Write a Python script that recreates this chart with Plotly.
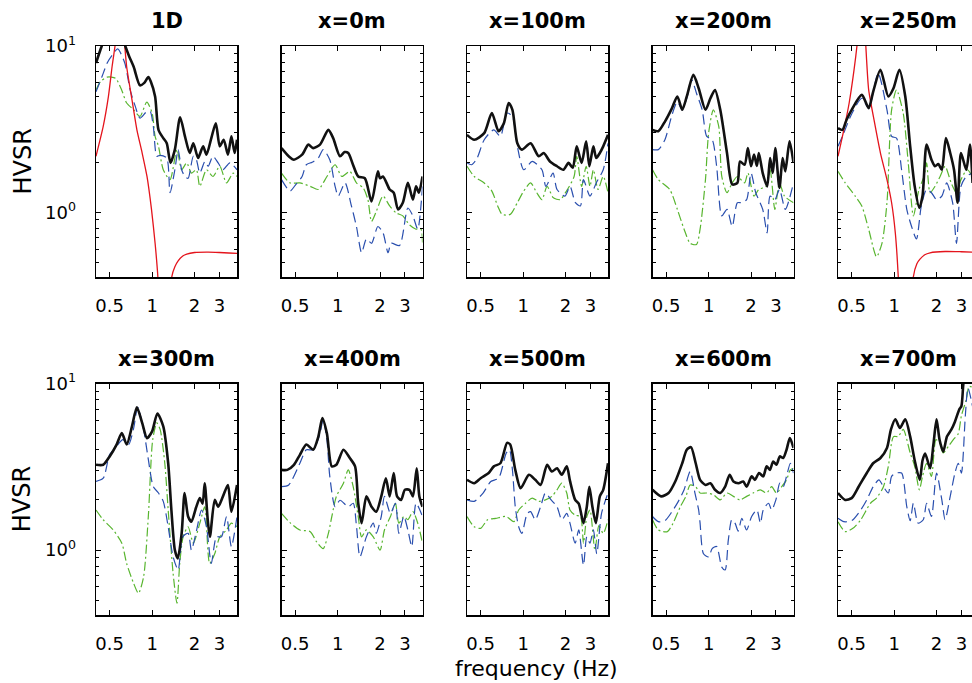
import math
import plotly.graph_objects as go

# ---------------- data (frequency Hz, HVSR) ----------------
TITLES = ["1D", "x=0m", "x=100m", "x=200m", "x=250m",
          "x=300m", "x=400m", "x=500m", "x=600m", "x=700m"]
X_TICKS = [0.5, 1, 2, 3]
X_TICK_TEXT = ["0.5", "1", "2", "3"]
Y_TICKS = [1, 10]
Y_TICK_TEXT = ["10<sup>0</sup>", "10<sup>1</sup>"]
Y_MINOR = [0.5, 0.6, 0.7, 0.8, 0.9, 2, 3, 4, 5, 6, 7, 8, 9]

# 1D
P1D_BLACK = [(0.40,7.9),(0.43,9.5),(0.46,11),(0.50,12),(0.55,12.5),(0.60,12),(0.645,10),(0.69,8.6),(0.74,7.5),(0.82,5.8),(0.88,6.0),(0.94,6.5),(0.98,6.1),(1.05,4.97),(1.11,3.13),(1.2,2.79),(1.27,2.6),(1.35,1.98),(1.45,2.38),(1.58,3.73),(1.71,2.86),(1.85,2.27),(1.96,2.6),(2.12,2.12),(2.3,2.49),(2.43,2.22),(2.63,2.79),(2.83,3.43),(3.02,2.49),(3.22,2.73),(3.45,2.22),(3.65,2.86),(3.85,2.27),(4.0,2.73)]
P1D_BLUE = [(0.40,5.3),(0.44,6.5),(0.48,7.9),(0.52,8.8),(0.57,9.6),(0.64,7.9),(0.70,5.4),(0.76,4.33),(0.82,3.68),(0.917,4.03),(0.97,4.03),(1.02,3.28),(1.08,2.17),(1.14,2.2),(1.27,2.12),(1.34,1.31),(1.45,1.8),(1.53,2.38),(1.62,1.8),(1.71,1.64),(1.8,1.6),(1.96,2.17),(2.06,2.07),(2.18,1.72),(2.37,2.02),(2.5,1.89),(2.7,2.17),(2.94,1.98),(3.18,1.8),(3.56,1.98),(4.0,1.8)]
P1D_GREEN = [(0.40,5.44),(0.43,6.1),(0.48,6.5),(0.55,6.4),(0.61,5.4),(0.66,4.54),(0.74,4.13),(0.82,3.77),(0.917,4.6),(1.0,3.95),(1.05,2.86),(1.11,2.49),(1.2,1.8),(1.34,1.57),(1.5,2.38),(1.62,1.8),(1.76,1.98),(1.9,1.72),(2.06,1.8),(2.18,1.43),(2.43,1.8),(2.7,1.64),(3.02,1.89),(3.37,1.5),(3.76,1.72),(4.0,1.64)]
P1D_RED = [(0.40,2.17),(0.45,3.28),(0.49,4.97),(0.52,7.5),(0.55,10.5),(0.58,16),(0.60,18),(0.62,14),(0.64,10),(0.66,7.5),(0.72,4.74),(0.78,3.13),(0.85,2.27),(0.92,1.64),(0.99,1.04),(1.05,0.65),(1.1,0.4),(1.15,0.15),(1.22,0.03),(1.3,0.15),(1.38,0.41),(1.45,0.47),(1.53,0.51),(1.65,0.545),(1.76,0.56),(2.0,0.572),(2.5,0.575),(3.0,0.572),(3.5,0.568),(4.0,0.565)]

# x=0m
P0_BLACK = [(0.40,2.43),(0.45,2.17),(0.49,2.07),(0.56,2.22),(0.62,2.55),(0.67,2.43),(0.75,2.55),(0.86,3.13),(0.93,2.79),(1.04,2.17),(1.12,2.3),(1.19,2.27),(1.28,1.95),(1.4,1.64),(1.56,1.6),(1.74,1.16),(1.93,1.76),(2.0,1.6),(2.1,1.64),(2.34,1.37),(2.5,1.31),(2.68,1.04),(2.9,1.14),(3.15,1.5),(3.42,1.19),(3.6,1.43),(3.77,1.31),(4.0,1.64)]
P0_BLUE = [(0.40,1.57),(0.46,1.34),(0.5,1.45),(0.56,1.64),(0.6,1.93),(0.66,2.0),(0.73,2.12),(0.79,2.38),(0.88,2.07),(0.96,1.43),(1.01,1.25),(1.13,1.5),(1.25,1.1),(1.36,0.82),(1.48,0.57),(1.6,0.69),(1.74,0.65),(1.93,0.82),(2.1,0.75),(2.28,0.57),(2.4,0.65),(2.75,0.63),(3.15,1.06),(3.42,0.95),(3.7,0.79),(4.0,1.43)]
P0_GREEN = [(0.40,1.72),(0.46,1.5),(0.54,1.5),(0.64,1.43),(0.73,1.37),(0.84,1.64),(0.96,1.93),(1.07,1.64),(1.22,1.76),(1.36,1.5),(1.52,1.4),(1.64,1.19),(1.74,0.88),(1.88,1.01),(2.1,1.25),(2.34,1.09),(2.6,0.99),(2.9,0.95),(3.23,0.84),(3.6,0.79),(3.9,0.79),(4.0,0.65)]

# x=100m
P100_BLACK = [(0.40,2.92),(0.45,2.73),(0.53,2.99),(0.60,3.95),(0.67,3.07),(0.73,3.43),(0.79,4.54),(0.84,4.13),(0.91,2.6),(0.98,2.38),(1.13,2.6),(1.29,2.17),(1.4,2.27),(1.55,2.02),(1.74,1.89),(1.93,1.8),(2.1,1.98),(2.25,1.85),(2.4,2.49),(2.6,1.98),(2.8,2.67),(2.95,1.89),(3.15,2.49),(3.3,2.12),(3.5,2.27),(3.7,2.49),(4.0,2.92)]
P100_BLUE = [(0.40,1.98),(0.43,1.93),(0.47,2.1),(0.53,2.73),(0.62,3.13),(0.69,2.86),(0.77,3.95),(0.84,3.77),(0.91,2.49),(1.01,1.8),(1.16,2.02),(1.36,1.8),(1.45,1.43),(1.63,1.72),(1.74,1.37),(1.98,1.25),(2.15,1.43),(2.35,1.14),(2.55,1.09),(2.68,1.57),(2.98,1.25),(3.3,1.5),(3.7,1.8),(4.0,2.6)]
P100_GREEN = [(0.40,1.89),(0.45,1.64),(0.53,1.5),(0.60,1.34),(0.66,1.09),(0.71,0.97),(0.81,0.97),(0.91,1.14),(1.01,1.34),(1.13,1.5),(1.25,1.31),(1.36,1.19),(1.48,1.43),(1.64,1.22),(1.83,1.19),(2.03,1.34),(2.3,1.64),(2.4,2.17),(2.6,1.43),(2.8,1.89),(2.98,1.43),(3.15,1.8),(3.4,1.37),(3.7,1.64),(4.0,1.31)]

# x=200m
P200_BLACK = [(0.40,3.13),(0.44,3.07),(0.49,3.51),(0.55,4.23),(0.60,4.97),(0.65,4.13),(0.70,4.97),(0.78,6.7),(0.85,5.57),(0.95,4.13),(1.03,4.85),(1.11,5.44),(1.21,4.13),(1.35,2.27),(1.47,1.47),(1.6,1.5),(1.67,2.02),(1.8,1.93),(1.9,2.43),(2.0,1.89),(2.1,2.22),(2.2,1.9),(2.27,2.27),(2.42,1.72),(2.6,1.43),(2.73,2.12),(2.85,1.72),(2.97,2.43),(3.18,1.4),(3.35,2.12),(3.5,1.76),(3.75,2.67),(4.0,1.98)]
P200_BLUE = [(0.40,2.38),(0.44,2.38),(0.49,2.73),(0.55,3.85),(0.60,4.6),(0.65,4.13),(0.70,4.85),(0.76,6.25),(0.82,5.2),(0.9,4.13),(0.97,2.86),(1.06,2.73),(1.14,1.89),(1.24,0.95),(1.35,1.04),(1.47,0.82),(1.6,1.14),(1.72,1.14),(1.86,1.19),(2.0,1.72),(2.16,1.31),(2.42,1.04),(2.6,0.75),(2.73,1.25),(2.95,1.19),(3.18,1.37),(3.5,1.04),(4.0,1.5)]
P200_GREEN = [(0.40,1.8),(0.44,1.57),(0.53,1.37),(0.60,1.04),(0.67,0.79),(0.74,0.65),(0.82,0.64),(0.87,0.79),(0.95,1.57),(1.0,2.99),(1.08,4.13),(1.18,3.28),(1.24,1.64),(1.35,1.31),(1.47,1.5),(1.6,1.64),(1.8,1.5),(1.9,1.72),(2.1,1.25),(2.27,1.37),(2.55,1.43),(2.73,1.8),(2.95,1.04),(3.18,1.5),(3.45,1.25),(4.0,1.14)]

# x=250m
P250_BLACK = [(0.40,3.2),(0.43,3.13),(0.46,3.6),(0.50,4.13),(0.59,5.08),(0.66,4.23),(0.71,5.3),(0.80,7.2),(0.91,4.97),(0.99,5.57),(1.09,7.2),(1.2,4.97),(1.3,2.49),(1.4,1.43),(1.51,1.06),(1.59,1.25),(1.7,2.55),(1.84,2.07),(1.95,1.89),(2.06,1.95),(2.18,1.8),(2.33,2.79),(2.5,2.27),(2.66,1.8),(2.82,1.14),(2.98,2.27),(3.25,1.8),(3.45,2.55),(3.6,1.5)]
P250_BLUE = [(0.40,2.49),(0.43,2.86),(0.50,3.9),(0.59,4.85),(0.66,4.23),(0.77,6.85),(0.89,4.13),(0.96,2.86),(1.04,2.79),(1.13,1.8),(1.23,1.04),(1.33,0.82),(1.44,0.69),(1.56,1.09),(1.7,1.37),(1.84,1.31),(2.0,1.19),(2.18,1.25),(2.36,1.5),(2.6,1.14),(2.77,0.65),(2.98,1.43),(3.25,1.64),(3.6,1.72)]
P250_GREEN = [(0.40,1.76),(0.45,1.5),(0.53,1.25),(0.59,1.09),(0.66,0.79),(0.75,0.54),(0.82,0.65),(0.89,1.14),(0.96,4.13),(1.04,5.44),(1.16,3.95),(1.26,1.98),(1.37,0.95),(1.5,1.37),(1.63,1.64),(1.7,1.98),(1.8,1.31),(1.95,1.43),(2.12,1.64),(2.3,1.89),(2.54,1.5),(2.77,1.31),(2.98,1.57),(3.3,1.8),(3.6,1.64)]
P250_RED = [(0.40,2.17),(0.44,3.13),(0.48,4.54),(0.52,7.2),(0.545,10),(0.58,18),(0.60,20),(0.615,15),(0.63,10),(0.66,5.44),(0.72,3.6),(0.80,2.27),(0.89,1.57),(0.96,1.14),(1.02,0.75),(1.07,0.41),(1.12,0.15),(1.22,0.03),(1.3,0.15),(1.37,0.41),(1.45,0.49),(1.52,0.52),(1.65,0.555),(1.8,0.57),(2.3,0.58),(3.0,0.578),(3.6,0.575)]

# x=300m
P300_BLACK = [(0.40,3.25),(0.45,3.25),(0.50,3.65),(0.56,4.3),(0.61,5.04),(0.66,4.3),(0.72,5.53),(0.78,7.2),(0.85,5.8),(0.92,4.7),(1.0,5.16),(1.09,6.6),(1.2,5.53),(1.3,3.32),(1.37,1.74),(1.45,1.0),(1.52,0.89),(1.62,1.26),(1.7,2.2),(1.8,1.59),(1.9,1.48),(2.05,1.8),(2.18,2.05),(2.28,1.9),(2.36,2.52),(2.48,1.52),(2.57,1.2),(2.78,2.0),(2.94,1.82),(3.18,2.1),(3.45,2.46),(3.65,1.7),(4.0,2.46)]
P300_BLUE = [(0.40,2.58),(0.45,2.7),(0.50,3.74),(0.56,4.2),(0.62,4.6),(0.68,4.3),(0.74,5.4),(0.79,7.2),(0.87,5.3),(0.94,3.5),(1.02,2.4),(1.11,2.2),(1.2,1.96),(1.3,1.38),(1.41,0.91),(1.53,0.76),(1.65,1.2),(1.8,1.26),(1.9,1.0),(2.07,1.32),(2.24,1.74),(2.43,1.38),(2.63,0.83),(2.86,1.2),(3.1,1.2),(3.37,1.59),(3.65,1.05),(4.0,1.59)]
P300_GREEN = [(0.40,1.74),(0.45,1.52),(0.53,1.32),(0.61,1.1),(0.66,0.83),(0.74,0.63),(0.80,0.55),(0.87,0.69),(0.94,1.59),(1.01,4.6),(1.08,5.8),(1.14,5.3),(1.23,3.32),(1.3,1.74),(1.41,0.72),(1.5,0.48),(1.57,0.83),(1.66,1.2),(1.8,1.38),(1.96,1.1),(2.18,1.45),(2.36,1.82),(2.56,0.83),(2.78,0.95),(3.02,1.2),(3.37,1.32),(3.65,1.45),(4.0,1.38)]

# x=400m
P400_BLACK = [(0.40,3.03),(0.44,3.03),(0.49,3.25),(0.54,3.73),(0.60,4.3),(0.67,4.0),(0.73,4.8),(0.78,6.2),(0.84,5.0),(0.91,3.18),(0.98,3.25),(1.1,4.0),(1.22,3.57),(1.33,3.18),(1.4,1.91),(1.48,1.45),(1.6,2.1),(1.74,1.82),(1.88,1.7),(2.04,2.1),(2.2,2.7),(2.34,2.1),(2.5,2.9),(2.64,2.1),(2.82,2.0),(3.0,2.3),(3.23,2.3),(3.42,2.1),(3.64,3.1),(3.8,2.1),(4.0,1.82)]
P400_BLUE = [(0.40,2.4),(0.45,2.46),(0.54,3.32),(0.60,4.0),(0.67,4.0),(0.75,5.0),(0.79,6.1),(0.84,4.6),(0.88,2.77),(0.96,1.82),(1.04,1.99),(1.19,1.82),(1.29,1.91),(1.36,1.4),(1.44,0.91),(1.6,1.2),(1.79,1.45),(1.88,1.26),(2.04,1.59),(2.15,2.1),(2.37,1.66),(2.57,1.91),(2.72,1.26),(2.95,1.59),(3.15,1.32),(3.36,1.05),(3.6,1.91),(4.0,1.59)]
P400_GREEN = [(0.40,1.66),(0.46,1.46),(0.54,1.32),(0.64,1.29),(0.71,1.12),(0.79,1.02),(0.86,1.26),(0.91,1.59),(0.98,2.1),(1.1,2.52),(1.19,3.03),(1.29,2.4),(1.4,1.59),(1.48,1.2),(1.6,1.32),(1.79,1.2),(2.0,1.0),(2.15,1.32),(2.37,1.59),(2.57,1.91),(2.72,1.45),(2.95,1.59),(3.15,1.52),(3.42,1.7),(3.7,1.45),(4.0,1.1)]

# x=500m
P500_BLACK = [(0.40,2.64),(0.45,2.52),(0.50,2.7),(0.57,2.9),(0.62,3.18),(0.69,3.32),(0.77,4.4),(0.81,4.3),(0.88,3.03),(0.96,2.35),(1.1,2.83),(1.22,2.64),(1.33,2.46),(1.48,3.25),(1.6,2.96),(1.74,3.1),(1.88,2.83),(2.04,3.18),(2.15,2.6),(2.34,2.0),(2.48,1.9),(2.68,1.45),(2.83,1.82),(2.95,2.4),(3.1,1.82),(3.28,1.45),(3.5,2.1),(3.7,2.3),(4.0,3.32)]
P500_BLUE = [(0.40,2.0),(0.45,1.96),(0.52,2.2),(0.59,2.58),(0.67,2.7),(0.76,3.83),(0.80,4.0),(0.84,3.03),(0.88,1.82),(0.93,1.38),(0.98,1.26),(1.07,1.66),(1.13,1.7),(1.22,1.52),(1.33,1.82),(1.44,2.2),(1.58,2.0),(1.74,1.82),(1.88,1.52),(2.04,1.66),(2.15,1.45),(2.34,1.1),(2.48,1.32),(2.68,0.81),(2.83,1.2),(2.98,1.1),(3.15,1.32),(3.33,0.95),(3.6,1.66),(4.0,2.2)]
P500_GREEN = [(0.40,1.59),(0.45,1.38),(0.50,1.35),(0.56,1.52),(0.64,1.55),(0.76,1.59),(0.86,1.48),(0.93,1.74),(1.04,1.91),(1.16,2.05),(1.29,1.96),(1.44,2.0),(1.6,2.1),(1.74,2.3),(1.88,2.52),(2.04,2.2),(2.15,1.74),(2.34,1.62),(2.55,1.59),(2.68,1.1),(2.83,1.59),(2.98,1.74),(3.23,1.0),(3.45,1.4),(3.7,1.26),(4.0,1.52)]

# x=600m
P600_BLACK = [(0.40,2.3),(0.46,2.1),(0.52,2.2),(0.58,2.58),(0.65,3.32),(0.70,4.0),(0.75,4.15),(0.81,3.32),(0.87,2.64),(0.95,2.46),(1.03,2.52),(1.11,2.3),(1.21,2.2),(1.31,2.4),(1.41,2.83),(1.5,2.58),(1.63,2.52),(1.76,2.58),(1.86,2.4),(2.02,2.77),(2.13,2.64),(2.28,2.9),(2.44,2.77),(2.58,3.18),(2.72,3.03),(2.87,3.4),(3.03,3.25),(3.2,3.65),(3.38,3.57),(3.57,4.0),(3.77,4.7),(4.0,4.1)]
P600_BLUE = [(0.40,1.59),(0.44,1.48),(0.49,1.5),(0.55,1.7),(0.61,1.96),(0.67,2.3),(0.74,2.96),(0.80,2.2),(0.85,1.74),(0.87,1.45),(0.92,0.95),(1.0,0.91),(1.06,1.02),(1.14,1.05),(1.24,0.79),(1.31,0.76),(1.38,1.15),(1.46,1.52),(1.54,1.45),(1.62,1.3),(1.72,1.55),(1.86,1.32),(2.02,1.59),(2.2,1.74),(2.33,1.45),(2.44,1.74),(2.66,1.91),(2.8,1.74),(3.0,2.0),(3.2,2.52),(3.38,2.4),(3.57,2.77),(3.8,3.32),(4.0,2.9)]
P600_GREEN = [(0.40,1.52),(0.44,1.32),(0.51,1.29),(0.56,1.45),(0.63,1.82),(0.69,2.1),(0.74,2.46),(0.81,2.4),(0.87,2.2),(0.97,2.2),(1.08,2.15),(1.21,2.0),(1.35,2.2),(1.5,2.1),(1.67,2.0),(1.86,2.1),(2.07,2.2),(2.33,2.3),(2.58,2.2),(2.8,2.4),(3.03,2.2),(3.3,2.4),(3.57,2.64),(3.8,3.03),(4.0,3.1)]

# x=700m
P700_BLACK = [(0.40,2.2),(0.45,2.0),(0.50,2.05),(0.56,2.4),(0.64,2.9),(0.71,3.32),(0.80,3.57),(0.89,4.1),(0.95,5.3),(1.02,6.1),(1.1,5.4),(1.2,6.1),(1.3,4.8),(1.4,3.45),(1.52,2.64),(1.59,3.45),(1.66,3.8),(1.8,3.1),(1.9,4.3),(2.0,6.1),(2.1,4.6),(2.23,3.9),(2.37,4.8),(2.55,5.3),(2.7,5.9),(2.9,7.0),(3.0,7.3),(3.1,10),(3.2,11.5),(3.4,13),(3.6,14)]
P700_BLUE = [(0.40,1.55),(0.44,1.48),(0.50,1.5),(0.58,1.74),(0.64,2.0),(0.71,2.4),(0.78,2.64),(0.84,2.4),(0.91,2.2),(0.96,2.77),(1.04,2.9),(1.13,2.9),(1.23,1.82),(1.3,1.5),(1.37,1.91),(1.48,1.45),(1.61,1.52),(1.7,1.91),(1.84,1.59),(2.0,2.9),(2.18,2.0),(2.3,1.52),(2.5,2.1),(2.7,2.9),(2.85,3.32),(3.0,2.9),(3.2,6.4),(3.34,9.4),(3.6,7.3)]
P700_GREEN = [(0.40,1.48),(0.45,1.29),(0.51,1.35),(0.58,1.52),(0.68,1.91),(0.75,2.05),(0.84,2.4),(0.91,3.18),(0.99,4.8),(1.07,4.8),(1.16,5.3),(1.3,3.83),(1.4,3.18),(1.51,2.3),(1.59,2.77),(1.7,3.32),(1.84,2.77),(1.98,4.6),(2.1,4.4),(2.23,3.83),(2.43,4.2),(2.63,4.6),(2.85,5.0),(3.0,6.4),(3.25,8.0),(3.4,9.6),(3.6,9.5)]

PANELS = [
    (P1D_BLACK, P1D_BLUE, P1D_GREEN, P1D_RED),
    (P0_BLACK, P0_BLUE, P0_GREEN, None),
    (P100_BLACK, P100_BLUE, P100_GREEN, None),
    (P200_BLACK, P200_BLUE, P200_GREEN, None),
    (P250_BLACK, P250_BLUE, P250_GREEN, P250_RED),
    (P300_BLACK, P300_BLUE, P300_GREEN, None),
    (P400_BLACK, P400_BLUE, P400_GREEN, None),
    (P500_BLACK, P500_BLUE, P500_GREEN, None),
    (P600_BLACK, P600_BLUE, P600_GREEN, None),
    (P700_BLACK, P700_BLUE, P700_GREEN, None),
]

# ---------------- layout geometry ----------------
W, H = 972, 683
ML = 96
PW = W - ML
PANEL_W = 141.0
STEP = 185.5
ROW_TOP = [46.0, 383.5]
ROW_BOT = [277.0, 615.0]

BLACK = "#111111"
BLUE = "#2a4fae"
GREEN = "#58b52f"
RED = "#e4141c"
FONT = "DejaVu Sans"

fig = go.Figure()

def xs(pts):
    return [p[0] for p in pts]

def ys(pts):
    return [p[1] for p in pts]

annotations = []
for k, (blk, blu, grn, red) in enumerate(PANELS):
    row, col = divmod(k, 5)
    ax = "" if k == 0 else str(k + 1)
    xref, yref = "x" + ax, "y" + ax
    left = STEP * col
    right = min(left + PANEL_W, PW)
    x0log = math.log10(0.4)
    x1log = x0log + (right - left) / PANEL_W
    common = dict(xaxis=xref, yaxis=yref, mode="lines", showlegend=False,
                  hoverinfo="skip")
    fig.add_trace(go.Scatter(x=xs(grn), y=ys(grn),
                             line=dict(color=GREEN, width=1.2, dash="9px,3px,2px,3px",
                                       shape="spline", smoothing=0.7), **common))
    fig.add_trace(go.Scatter(x=xs(blu), y=ys(blu),
                             line=dict(color=BLUE, width=1.2, dash="10px,5px",
                                       shape="spline", smoothing=0.7), **common))
    if red is not None:
        fig.add_trace(go.Scatter(x=xs(red), y=ys(red),
                                 line=dict(color=RED, width=1.3, shape="spline",
                                           smoothing=0.6), **common))
    fig.add_trace(go.Scatter(x=xs(blk), y=ys(blk),
                             line=dict(color=BLACK, width=2.6, shape="spline",
                                       smoothing=0.7), **common))

    xa = dict(type="log", domain=[left / PW, right / PW], range=[x0log, x1log],
              anchor=yref, showgrid=False, zeroline=False, automargin=False,
              showline=True, linecolor="black", linewidth=1.5, mirror="ticks",
              ticks="inside", ticklen=5, tickwidth=1, tickcolor="black",
              tickvals=X_TICKS, ticktext=X_TICK_TEXT,
              tickfont=dict(family=FONT, size=18, color="black"),
              ticklabelstandoff=12)
    ydom = [1 - ROW_BOT[row] / H, 1 - ROW_TOP[row] / H]
    ya = dict(type="log", domain=ydom, range=[-0.39, 1.0], anchor=xref,
              showgrid=False, zeroline=False, automargin=False,
              showline=True, linecolor="black", linewidth=1.5,
              mirror="ticks" if col < 4 else False,
              ticks="inside", ticklen=5, tickwidth=1, tickcolor="black",
              tickvals=Y_TICKS, ticktext=Y_TICK_TEXT,
              showticklabels=(col == 0),
              tickfont=dict(family=FONT, size=18, color="black"),
              ticklabelstandoff=15,
              minor=dict(tickvals=Y_MINOR, ticks="inside", ticklen=3,
                         tickwidth=1, tickcolor="black"))
    fig.layout["xaxis" + ax] = xa
    fig.layout["yaxis" + ax] = ya

    cx = (STEP * col + PANEL_W / 2) / PW
    ty = ROW_TOP[row] - 25
    annotations.append(dict(text="<b>%s</b>" % TITLES[k], x=cx, y=1 - ty / H,
                            xref="paper", yref="paper", showarrow=False,
                            xanchor="center", yanchor="middle",
                            font=dict(family=FONT, size=21, color="black")))

for row in range(2):
    cy = (ROW_TOP[row] + ROW_BOT[row]) / 2
    annotations.append(dict(text="HVSR", x=(22 - ML) / PW, y=1 - cy / H,
                            xref="paper", yref="paper", showarrow=False,
                            textangle=-90, xanchor="center", yanchor="middle",
                            font=dict(family=FONT, size=24, color="black")))

annotations.append(dict(text="frequency (Hz)", x=(536.5 - ML) / PW, y=1 - 668 / H,
                        xref="paper", yref="paper", showarrow=False,
                        xanchor="center", yanchor="middle",
                        font=dict(family=FONT, size=22, color="black")))

fig.update_layout(width=W, height=H, margin=dict(l=ML, r=0, t=0, b=0, pad=0),
                  autosize=False,
                  paper_bgcolor="white", plot_bgcolor="white",
                  showlegend=False, annotations=annotations)

fig.write_html("out.html",
               config={"displayModeBar": False, "staticPlot": True},
               post_script="document.body.style.margin='0px';"
                           "document.body.style.padding='0px';"
                           "document.body.style.overflow='hidden';")
